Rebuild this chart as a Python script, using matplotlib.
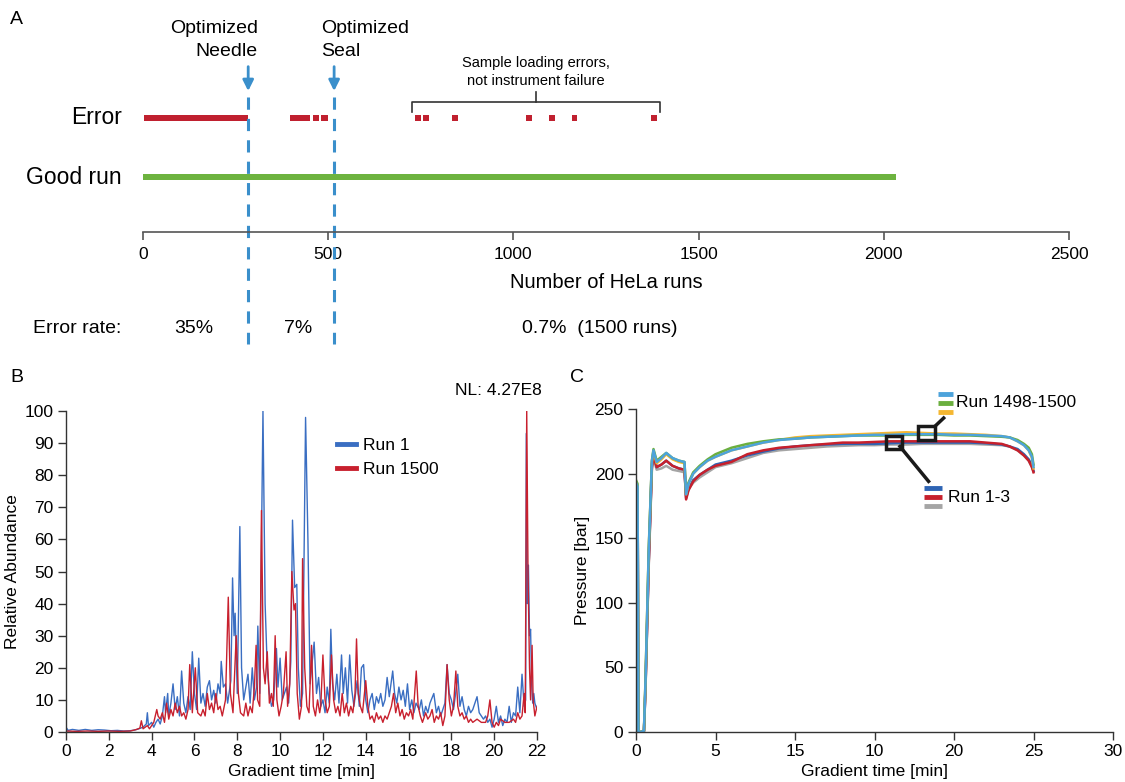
import numpy as np
import matplotlib.pyplot as plt
from matplotlib.patches import Rectangle

plt.rcParams['font.family'] = ['Liberation Sans', 'DejaVu Sans']

# ---- panel A: run history ----
error_starts = [4, 79, 93, 398, 458, 480, 735, 755, 835, 1033, 1096, 1157, 1372]
error_ends = [77, 91, 283, 452, 476, 500, 751, 771, 851, 1049, 1112, 1173, 1388]
good_end = 2032
needle_run = 284
seal_run = 516
error_rates = ['35%', '7%', '0.7%  (1500 runs)']

# ---- panel B: base peak chromatograms ----
run1_t = [0.0, 0.1, 0.3, 0.6, 0.9, 1.2, 1.5, 1.8, 2.1, 2.4, 2.7, 3.0, 3.2, 3.4, 3.6, 3.75, 3.8, 3.85,
          4.0, 4.1, 4.2, 4.3, 4.4, 4.5, 4.6, 4.65, 4.75, 4.8, 4.9, 5.0, 5.1, 5.2, 5.3, 5.4, 5.5, 5.6,
          5.7, 5.8, 5.9, 6.0, 6.1, 6.2, 6.3, 6.4, 6.5, 6.6, 6.7, 6.8, 6.9, 7.0, 7.1, 7.2, 7.25, 7.35,
          7.45, 7.55, 7.7, 7.78, 7.85, 7.9, 8.0, 8.12, 8.2, 8.3, 8.4, 8.5, 8.6, 8.7, 8.8, 8.9, 8.96,
          9.05, 9.2, 9.3, 9.4, 9.5, 9.6, 9.7, 9.83, 9.9, 10.0, 10.1, 10.2, 10.3, 10.4, 10.5, 10.58,
          10.68, 10.78, 10.85, 10.95, 11.05, 11.19, 11.3, 11.4, 11.5, 11.59, 11.7, 11.8, 11.9, 12.0,
          12.1, 12.2, 12.3, 12.37, 12.45, 12.55, 12.65, 12.75, 12.87, 12.95, 13.05, 13.15, 13.25,
          13.35, 13.45, 13.6, 13.7, 13.8, 13.9, 14.0, 14.1, 14.2, 14.3, 14.4, 14.5, 14.6, 14.7, 14.8,
          14.9, 15.0, 15.1, 15.26, 15.35, 15.45, 15.55, 15.65, 15.75, 15.85, 15.95, 16.05, 16.15,
          16.25, 16.35, 16.5, 16.6, 16.7, 16.8, 16.9, 17.0, 17.18, 17.3, 17.4, 17.5, 17.6, 17.7, 17.8,
          17.9, 18.0, 18.1, 18.2, 18.3, 18.4, 18.5, 18.6, 18.7, 18.8, 18.9, 19.0, 19.1, 19.2, 19.3,
          19.4, 19.5, 19.6, 19.7, 19.8, 19.9, 20.0, 20.1, 20.2, 20.3, 20.4, 20.5, 20.6, 20.7, 20.8,
          20.9, 21.0, 21.1, 21.2, 21.3, 21.4, 21.47, 21.5, 21.55, 21.6, 21.65, 21.7, 21.75, 21.8,
          21.85, 21.9, 22.0]
run1_ab = [1.5, 0.5, 0.8, 0.5, 0.8, 0.5, 0.7, 0.6, 0.4, 0.5, 0.3, 0.4, 0.6, 1.0, 1.5, 2.5, 6, 2,
           3, 1.5, 3, 4, 2.5, 5, 11, 6, 12, 5, 9, 15, 7, 11, 5, 19, 9, 6,
           11, 7, 25, 12, 7, 23, 9, 12, 8, 14, 16, 10, 13, 9, 15, 12, 22, 14,
           15, 9, 16, 48, 30, 37, 12, 64, 20, 10, 14, 18, 9, 20, 10, 14, 33,
           12, 100, 40, 20, 12, 8, 10, 26, 14, 23, 10, 12, 14, 9, 22, 66,
           45, 46, 20, 8, 12, 98, 60, 15, 22, 28, 12, 17, 8, 10,
           6, 14, 9, 32, 15, 10, 18, 9, 24, 12, 20, 9, 24,
           13, 8, 16, 8, 20, 21, 10, 6, 10, 12, 7, 11, 9, 12, 8,
           10, 17, 11, 19, 12, 9, 14, 10, 13, 8, 15, 7, 10,
           6, 9, 7, 10, 5, 8, 6, 9, 12, 6, 8, 5, 7, 9, 21,
           12, 10, 7, 12, 18, 8, 11, 7, 5, 8, 6, 7, 9, 11, 6,
           5, 4, 5, 3, 4, 1.5, 4, 8, 3, 5, 2, 4, 3, 8, 3,
           6, 5, 14, 6, 18, 8, 10, 93, 40, 52, 30, 32, 15, 9,
           12, 9, 7]
run1500_t = [0.0, 0.5, 1.0, 1.5, 2.0, 2.5, 3.0, 3.3, 3.45, 3.52, 3.6, 3.7, 3.8, 3.9, 4.0, 4.1, 4.24,
             4.3, 4.4, 4.5, 4.6, 4.7, 4.8, 4.9, 5.0, 5.1, 5.2, 5.3, 5.4, 5.5, 5.6, 5.7, 5.78, 5.9, 6.04,
             6.15, 6.3, 6.4, 6.5, 6.6, 6.7, 6.8, 6.9, 7.0, 7.1, 7.2, 7.3, 7.45, 7.58, 7.68, 7.8, 7.95,
             8.05, 8.15, 8.3, 8.4, 8.5, 8.6, 8.7, 8.8, 8.88, 8.95, 9.05, 9.13, 9.22, 9.3, 9.4, 9.5, 9.6,
             9.68, 9.77, 9.85, 9.95, 10.05, 10.15, 10.28, 10.35, 10.45, 10.55, 10.65, 10.72, 10.8, 10.9,
             11.0, 11.05, 11.15, 11.25, 11.35, 11.47, 11.55, 11.65, 11.75, 11.85, 11.9, 12.0, 12.1,
             12.2, 12.3, 12.4, 12.5, 12.6, 12.7, 12.8, 12.9, 13.0, 13.1, 13.2, 13.3, 13.4, 13.5, 13.57,
             13.65, 13.75, 13.85, 14.0, 14.1, 14.2, 14.3, 14.4, 14.5, 14.6, 14.7, 14.8, 14.9, 15.0,
             15.1, 15.2, 15.3, 15.4, 15.5, 15.6, 15.7, 15.8, 15.9, 16.0, 16.1, 16.2, 16.36, 16.45,
             16.55, 16.65, 16.8, 16.9, 17.0, 17.1, 17.2, 17.3, 17.4, 17.5, 17.6, 17.7, 17.8, 17.9, 18.0,
             18.1, 18.21, 18.3, 18.4, 18.5, 18.6, 18.7, 18.8, 18.9, 19.0, 19.2, 19.4, 19.6, 19.7, 19.8,
             19.9, 20.0, 20.1, 20.2, 20.3, 20.5, 20.7, 20.9, 21.0, 21.1, 21.2, 21.3, 21.4, 21.45, 21.52,
             21.58, 21.65, 21.7, 21.77, 21.82, 21.9, 22.0]
run1500_ab = [0.3, 0.2, 0.3, 0.2, 0.3, 0.2, 0.3, 0.8, 1.2, 3.5, 1, 1.5, 2, 1, 2, 3, 7,
              5, 4, 6, 3, 9, 4, 7, 5, 9, 6, 8, 5, 6, 4, 7, 21, 6, 20,
              6, 5, 7, 5, 12, 7, 9, 6, 12, 7, 8, 5, 10, 42, 12, 6, 30,
              12, 6, 5, 9, 5, 8, 6, 14, 27, 10, 8, 69, 20, 15, 25, 9, 12,
              8, 30, 10, 5, 8, 12, 25, 8, 15, 50, 38, 40, 12, 4,
              8, 54, 20, 8, 6, 27, 8, 5, 10, 6, 8, 24, 10,
              6, 8, 24, 10, 6, 8, 5, 12, 6, 9, 5, 8, 6, 12, 29,
              12, 8, 6, 16, 8, 4, 5, 3, 6, 4, 5, 3, 5, 4,
              6, 8, 12, 6, 9, 5, 7, 4, 6, 5, 7, 4, 19, 8,
              5, 3, 6, 4, 5, 7, 3, 5, 4, 6, 2, 5, 21, 10, 5,
              8, 19, 8, 5, 6, 4, 5, 3, 4, 3, 4, 3, 3, 5, 10,
              3, 1.5, 3, 2, 4, 3, 3, 4, 3, 6, 4, 5, 12, 6, 100,
              50, 20, 10, 27, 10, 5, 8]

# ---- panel C: pressure traces ----
p_t = [0, 0.1, 0.15, 0.3, 0.5, 0.6, 0.8, 1.0, 1.1, 1.3, 1.6, 1.9, 2.3, 2.7, 3.05, 3.15, 3.3, 3.6,
       4, 4.5, 5, 6, 7, 8, 9, 10, 11, 12, 13, 14, 15, 16, 17, 18, 19, 20, 21, 22, 23, 23.5, 24,
       24.4, 24.7, 24.9, 25.0]
p_run1498 = [195, 192, 0, 0, 1, 42, 142, 210, 219, 210, 213, 216, 212, 210, 209, 185, 193, 201,
             206, 211, 215, 220, 223, 225, 226.5, 227, 228, 228.5, 229, 229.5, 229.5, 229.5, 230,
             230, 230, 229.5, 229.5, 229, 228.5, 228, 226, 223, 220, 215, 207]
p_run1499 = [192, 190, 0, 0, 1, 40, 140, 209, 217, 208, 211, 215, 211, 209, 208, 184, 192, 200,
             205, 210, 213, 218, 221, 224, 226, 228, 229, 229.5, 230, 230.5, 231, 231.5, 232,
             231.5, 231, 231, 230.5, 230, 229, 228, 225, 222, 218, 212, 204]
p_run1500 = [193, 190, 0, 0, 1, 40, 140, 210, 218, 209, 212, 216, 212, 210, 209, 184, 192, 200,
             205, 210, 213, 218, 221, 224, 226, 227, 228, 228.5, 229, 229.5, 230, 230, 230.5,
             230.5, 230.5, 230, 230, 229.5, 229, 228, 225, 222, 218, 213, 205]
p_run1 = [191, 188, 0, 0, 0.5, 36, 132, 207, 215, 205, 207, 210, 206, 204, 203, 181, 188, 195,
          199, 203, 207, 210, 214, 217, 219.5, 221, 222, 222.5, 223, 223, 223, 223.5, 224, 224,
          224, 224, 224, 223.5, 222.5, 221, 219, 215, 211, 206, 202]
p_run2 = [190, 187, 0, 0, 0.5, 35, 130, 205, 214, 205, 207, 210, 206, 204, 203, 180, 187, 194,
          199, 203, 206, 209, 215, 218, 220, 221, 222, 223, 224, 224, 224.5, 225, 225, 225, 225,
          225, 225, 224, 223, 221, 218, 214, 210, 205, 201]
p_run3 = [188, 185, 0, 0, 0.5, 34, 128, 203, 212, 203, 204, 206, 203, 202, 201, 183, 188, 193,
          197, 201, 205, 208, 212, 216, 218, 219, 220, 221, 221.5, 222, 222, 222.5, 222.5, 223,
          223, 223, 223, 222.5, 222, 221, 218, 214, 210, 205, 202]
c_xticklabels = ['0', '5', '15', '10', '20', '25', '30']

blue_b = '#3A6EC2'
red_b = '#C8202E'
dash_blue = '#3A8FCB'
err_red = '#C0202F'
good_green = '#6DB33F'
axis_col = '#333333'

W, H = 1125, 782
fig = plt.figure(figsize=(W / 100, H / 100), dpi=100)


def px_axes(left, top, right, bottom):
    return fig.add_axes([left / W, 1 - bottom / H, (right - left) / W, (bottom - top) / H])


# ================= A =================
axA = px_axes(143, 20, 1069, 232)
axA.set_xlim(0, 2500)
axA.set_ylim(0, 1)
for s in ['top', 'left', 'right']:
    axA.spines[s].set_visible(False)
axA.spines['bottom'].set_color('#555555')
axA.spines['bottom'].set_linewidth(1.2)
axA.set_yticks([])
axA.set_xticks([0, 500, 1000, 1500, 2000, 2500])
axA.tick_params(axis='x', direction='out', length=6, width=1.2, color='#555555',
                labelsize=12.5, pad=5)
axA.set_xlabel('Number of HeLa runs', fontsize=14.5, labelpad=8)

y_err, y_good = 0.538, 0.259
bar_h = 0.032
axA.broken_barh([(s, e - s) for s, e in zip(error_starts, error_ends)],
                (y_err - bar_h / 2, bar_h), facecolors=err_red, edgecolor='none')
axA.broken_barh([(0, good_end)], (y_good - bar_h / 2, bar_h), facecolors=good_green,
                edgecolor='none')
axA.text(-58, y_err, 'Error', ha='right', va='center', fontsize=16.5)
axA.text(-58, y_good, 'Good run', ha='right', va='center', fontsize=16.5)

for xr in [needle_run, seal_run]:
    axA.plot([xr, xr], [0.637, -0.53], color=dash_blue, lw=2.2, ls=(0, (4, 3)),
             clip_on=False)
    axA.annotate('', xy=(xr, 0.665), xytext=(xr, 0.78),
                 arrowprops=dict(arrowstyle='-|>', color=dash_blue, lw=2,
                                 mutation_scale=16, shrinkA=0, shrinkB=0),
                 annotation_clip=False)
axA.text(310, 0.905, 'Optimized\nNeedle', ha='right', va='center', fontsize=14,
         linespacing=1.45, multialignment='right')
axA.text(480, 0.905, 'Optimized\nSeal', ha='left', va='center', fontsize=14,
         linespacing=1.45, multialignment='left')

# bracket over the late errors
bx0, bx1, bxm = 725, 1397, 1061
axA.plot([bx0, bx0, bx1, bx1], [0.565, 0.615, 0.615, 0.565], color='#333333', lw=1.2)
axA.plot([bxm, bxm], [0.615, 0.66], color='#333333', lw=1.2)
axA.text(bxm, 0.755, 'Sample loading errors,\nnot instrument failure', ha='center',
         va='center', fontsize=10.5, linespacing=1.35)

y_rate = -0.453
axA.text(-298, y_rate, 'Error rate:', ha='left', va='center', fontsize=14)
axA.text(138, y_rate, error_rates[0], ha='center', va='center', fontsize=14)
axA.text(418, y_rate, error_rates[1], ha='center', va='center', fontsize=14)
axA.text(1023, y_rate, error_rates[2], ha='left', va='center', fontsize=14)

fig.text(10 / W, 1 - 20 / H, 'A', fontsize=14, va='center', ha='left')
fig.text(10 / W, 1 - 378 / H, 'B', fontsize=14, va='center', ha='left')
fig.text(570 / W, 1 - 378 / H, 'C', fontsize=14, va='center', ha='left')


def style_axes(ax):
    for s in ['top', 'right']:
        ax.spines[s].set_visible(False)
    for s in ['left', 'bottom']:
        ax.spines[s].set_color(axis_col)
        ax.spines[s].set_linewidth(1.0)
    ax.tick_params(direction='out', length=6, width=1.0, color=axis_col, labelsize=12.5,
                   pad=3)


# ================= B =================
axB = px_axes(66, 411, 537, 732)
style_axes(axB)
axB.plot(run1_t, run1_ab, color=blue_b, lw=1.0, label='Run 1')
axB.plot(run1500_t, run1500_ab, color=red_b, lw=1.0, label='Run 1500')
axB.set_xlim(0, 22)
axB.set_ylim(0, 100)
axB.set_xticks(range(0, 23, 2))
axB.set_yticks(range(0, 101, 10))
axB.set_xlabel('Gradient time [min]', fontsize=12.5, labelpad=3)
axB.set_ylabel('Relative Abundance', fontsize=12.5, labelpad=3)
leg = axB.legend(loc='upper left', bbox_to_anchor=(0.575, 0.915), frameon=False,
                 fontsize=12.5, handlelength=1.1, handletextpad=0.4, labelspacing=0.5,
                 borderaxespad=0, borderpad=0)
for ln in leg.get_lines():
    ln.set_linewidth(3.5)
axB.text(1.01, 1.065, 'NL: 4.27E8', transform=axB.transAxes, ha='right', va='center',
         fontsize=12.5)

# ================= C =================
axC = px_axes(636, 409, 1113, 732)
style_axes(axC)
c_runs = [(p_run3, '#A5A5A5'), (p_run1, '#2E64B4'), (p_run2, '#C7202C'),
          (p_run1499, '#F5B731'), (p_run1498, '#6BAF3F'), (p_run1500, '#4DA3DB')]
for vals, col in c_runs:
    axC.plot(p_t, vals, color=col, lw=1.8)
axC.set_xlim(0, 30)
axC.set_ylim(0, 250)
axC.set_xticks(range(0, 31, 5))
axC.set_xticklabels(c_xticklabels)
axC.set_yticks(range(0, 251, 50))
axC.set_xlabel('Gradient time [min]', fontsize=12.5, labelpad=3)
axC.set_ylabel('Pressure [bar]', fontsize=12.5, labelpad=3)

# zoom boxes with callouts
axC.add_patch(Rectangle((17.75, 226.3), 1.05, 10.3, fill=False, lw=2.5, ec='#1a1a1a',
                        zorder=5))
axC.add_patch(Rectangle((15.7, 219.0), 1.0, 10.3, fill=False, lw=2.5, ec='#1a1a1a',
                        zorder=5))
axC.plot([18.8, 19.35], [236.6, 243], color='#1a1a1a', lw=2.5, clip_on=False, zorder=5)
axC.plot([16.6, 18.4], [221, 194], color='#1a1a1a', lw=2.5, clip_on=False, zorder=5)
for yv, col in zip([261.6, 255, 247.7], ['#4DA3DB', '#6BAF3F', '#F5B731']):
    axC.plot([19.0, 19.95], [yv, yv], color=col, lw=3.5, clip_on=False,
             solid_capstyle='butt')
axC.text(20.15, 255, 'Run 1498-1500', ha='left', va='center', fontsize=12.5)
for yv, col in zip([188.9, 181.6, 174.7], ['#2E64B4', '#C7202C', '#A5A5A5']):
    axC.plot([18.1, 19.25], [yv, yv], color=col, lw=3.5, clip_on=False,
             solid_capstyle='butt')
axC.text(19.6, 181.6, 'Run 1-3', ha='left', va='center', fontsize=12.5)

fig.savefig('out.png', dpi=100)
